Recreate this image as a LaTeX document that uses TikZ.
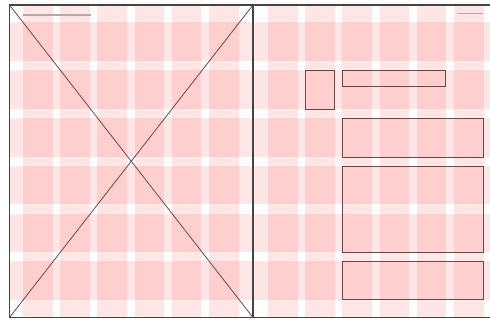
\documentclass[tikz,border=0pt]{standalone}
\usepackage{tikz}
\usetikzlibrary{positioning}
\definecolor{gband}{HTML}{FF1A1A}
\definecolor{gframe}{HTML}{444444}
\definecolor{gwire}{HTML}{6E4646}
\definecolor{ghead}{HTML}{B4A9A9}
\tikzset{
  gcol/.style={fill=gband, fill opacity=0.11},
  gframeline/.style={draw=gframe, line width=1.1pt},
  gdiag/.style={draw=gwire, line width=0.8pt},
  gbox/.style={draw=gwire, line width=0.9pt},
  gheader/.style={draw=ghead, line width=1.6pt},
}

\begin{document}
\begin{tikzpicture}[x=1pt,y=-1pt]

  \useasboundingbox (0,0) rectangle (490,320);

  % page corners
  \coordinate (lnw) at (9.5,5);
  \coordinate (lsw) at (9.5,317.5);
  \coordinate (lne) at (253,5);
  \coordinate (lse) at (253,317.5);
  \coordinate (rne) at (490,5);
  \coordinate (rse) at (490,317.5);

  % grid of columns and rows
  \begin{scope}
    \clip (lnw) rectangle (rse);
    \foreach \p in {23,268}{
      \foreach \i in {0,...,5}
        \fill[gcol] ({\p+37.2*\i},5) rectangle ++(29.5,312.5);
    }
    \foreach \i in {0,...,5}
      \fill[gcol] (9.5,{22+47.9*\i}) rectangle ++(481,38.8);
  \end{scope}

  % running heads
  \draw[gheader] (23,15) -- (91,15);
  \draw[gheader] (457,13.5) -- (483,13.5);

  % left page: image placeholder
  \draw[gdiag] (lnw) -- (lse);
  \draw[gdiag] (lsw) -- (lne);

  % right page: blocks
  \draw[gbox] (305.5,70.5) rectangle (334.5,109);
  \draw[gbox] (342.7,70) rectangle (445.5,86);
  \draw[gbox] (342.7,118.3) rectangle (483,157.3);
  \draw[gbox] (342.7,166) rectangle (483,252.3);
  \draw[gbox] (342.7,261) rectangle (483,299.3);

  % page edges
  \draw[gframeline] (lnw) rectangle (lse);
  \draw[gframeline] (lne) -- (rne);
  \draw[gframeline] (lse) -- (rse);

\end{tikzpicture}
\end{document}
